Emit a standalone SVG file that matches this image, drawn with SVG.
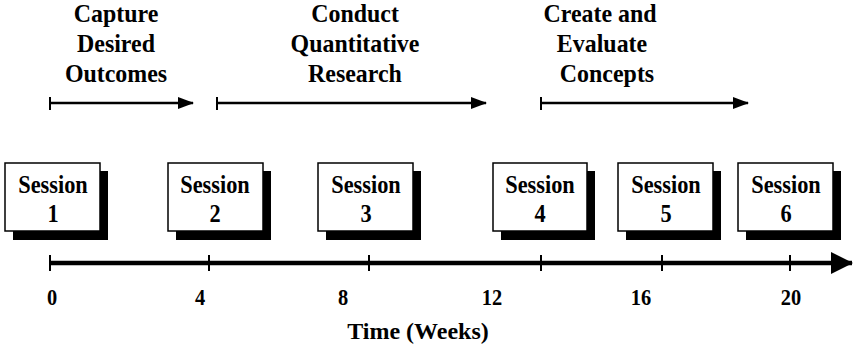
<svg xmlns="http://www.w3.org/2000/svg" width="860" height="350" viewBox="0 0 860 350">
  <style>
    text { font-family: "Liberation Serif", "Times New Roman", serif; font-weight: bold; fill: #000; text-anchor: middle; }
    .phase { font-size: 26px; }
    .sess { font-size: 26px; }
    .tick { font-size: 24px; }
    .title { font-size: 24px; }
    .box { fill: #fff; stroke: #000; stroke-width: 1.5; }
    .shadow { fill: #000; }
    .line { stroke: #000; fill: none; }
  </style>
  <defs>
    <marker id="headSmall" markerWidth="16" markerHeight="12" refX="15" refY="6" orient="auto" markerUnits="userSpaceOnUse">
      <path d="M0,0 L16,6 L0,12 Z" fill="#000"/>
    </marker>
    <marker id="headBig" markerWidth="22" markerHeight="22" refX="21" refY="11" orient="auto" markerUnits="userSpaceOnUse">
      <path d="M0,0 L22,11 L0,22 Z" fill="#000"/>
    </marker>
  </defs>
  <rect width="860" height="350" fill="#fff"/>

  <!-- phase headings (slightly condensed) -->
  <g id="phase-capture">
    <text class="phase" transform="translate(116,22) scale(0.92,1)">Capture</text>
    <text class="phase" transform="translate(116,52) scale(0.92,1)">Desired</text>
    <text class="phase" transform="translate(116,82) scale(0.92,1)">Outcomes</text>
  </g>
  <g id="phase-conduct">
    <text class="phase" transform="translate(355,22) scale(0.92,1)">Conduct</text>
    <text class="phase" transform="translate(355,52) scale(0.92,1)">Quantitative</text>
    <text class="phase" transform="translate(355,82) scale(0.92,1)">Research</text>
  </g>
  <g id="phase-create">
    <text class="phase" transform="translate(600,22) scale(0.92,1)">Create and</text>
    <text class="phase" transform="translate(602,52) scale(0.92,1)">Evaluate</text>
    <text class="phase" transform="translate(607,82) scale(0.92,1)">Concepts</text>
  </g>

  <!-- sessions -->
  <g id="session-1">
    <rect class="shadow" x="13" y="171" width="95" height="69"/>
    <rect class="box" x="5" y="163" width="95" height="68"/>
    <text class="sess" transform="translate(53,193) scale(0.86,1)">Session</text>
    <text class="sess" transform="translate(53,222) scale(0.86,1)">1</text>
  </g>
  <g id="session-2">
    <rect class="shadow" x="176" y="171" width="95" height="69"/>
    <rect class="box" x="168" y="163" width="95" height="68"/>
    <text class="sess" transform="translate(215,193) scale(0.86,1)">Session</text>
    <text class="sess" transform="translate(215,222) scale(0.86,1)">2</text>
  </g>
  <g id="session-3">
    <rect class="shadow" x="326" y="171" width="95" height="69"/>
    <rect class="box" x="318" y="163" width="95" height="68"/>
    <text class="sess" transform="translate(366,193) scale(0.86,1)">Session</text>
    <text class="sess" transform="translate(366,222) scale(0.86,1)">3</text>
  </g>
  <g id="session-4">
    <rect class="shadow" x="501" y="171" width="94" height="69"/>
    <rect class="box" x="493" y="163" width="94" height="68"/>
    <text class="sess" transform="translate(540,193) scale(0.86,1)">Session</text>
    <text class="sess" transform="translate(540,222) scale(0.86,1)">4</text>
  </g>
  <g id="session-5">
    <rect class="shadow" x="626" y="171" width="95" height="69"/>
    <rect class="box" x="618" y="163" width="95" height="68"/>
    <text class="sess" transform="translate(666,193) scale(0.86,1)">Session</text>
    <text class="sess" transform="translate(666,222) scale(0.86,1)">5</text>
  </g>
  <g id="session-6">
    <rect class="shadow" x="746" y="171" width="95" height="69"/>
    <rect class="box" x="738" y="163" width="95" height="68"/>
    <text class="sess" transform="translate(786,193) scale(0.86,1)">Session</text>
    <text class="sess" transform="translate(786,222) scale(0.86,1)">6</text>
  </g>

  <!-- connectors: phase spans and time axis -->
  <g id="connectors">
    <line class="line" x1="50" y1="103" x2="193" y2="103" stroke-width="2.5" marker-end="url(#headSmall)"/>
    <line class="line" x1="50" y1="97" x2="50" y2="110" stroke-width="2"/>
    <line class="line" x1="217" y1="103" x2="486" y2="103" stroke-width="2.5" marker-end="url(#headSmall)"/>
    <line class="line" x1="217" y1="97" x2="217" y2="110" stroke-width="2"/>
    <line class="line" x1="541" y1="103" x2="748" y2="103" stroke-width="2.5" marker-end="url(#headSmall)"/>
    <line class="line" x1="541" y1="97" x2="541" y2="110" stroke-width="2"/>

    <line class="line" x1="50" y1="263" x2="852" y2="263" stroke-width="4.5" marker-end="url(#headBig)"/>
    <g class="line" stroke-width="2">
      <line x1="50" y1="255" x2="50" y2="271"/>
      <line x1="209" y1="255" x2="209" y2="271"/>
      <line x1="369" y1="255" x2="369" y2="271"/>
      <line x1="541" y1="255" x2="541" y2="271"/>
      <line x1="662" y1="255" x2="662" y2="271"/>
      <line x1="790" y1="255" x2="790" y2="271"/>
    </g>
  </g>

  <!-- axis labels (narrow figures) -->
  <g id="axis-labels">
    <text class="tick" transform="translate(52,305) scale(0.85,1)">0</text>
    <text class="tick" transform="translate(200,305) scale(0.85,1)">4</text>
    <text class="tick" transform="translate(343,305) scale(0.85,1)">8</text>
    <text class="tick" transform="translate(492,305) scale(0.85,1)">12</text>
    <text class="tick" transform="translate(641,305) scale(0.85,1)">16</text>
    <text class="tick" transform="translate(791,305) scale(0.85,1)">20</text>
    <text class="title" x="418" y="339">Time (Weeks)</text>
  </g>
</svg>
